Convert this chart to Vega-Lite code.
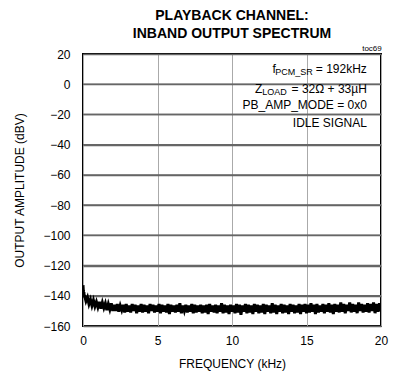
{
  "$schema": "https://vega.github.io/schema/vega-lite/v6.json",
  "autosize": {"type": "none"},
  "padding": {"left": 83, "top": 54, "right": 17, "bottom": 48},
  "width": 298,
  "height": 272,
  "background": "white",
  "view": {"stroke": "black", "strokeWidth": 2},
  "title": {
    "text": ["PLAYBACK CHANNEL:", "INBAND OUTPUT SPECTRUM"],
    "font": "Liberation Sans",
    "fontSize": 14,
    "fontWeight": "bold",
    "lineHeight": 18,
    "anchor": "middle",
    "color": "black",
    "offset": 4
  },
  "config": {
    "view": {"stroke": "black", "strokeWidth": 2},
    "font": "Liberation Sans",
    "axis": {
      "labelFont": "Liberation Sans",
      "titleFont": "Liberation Sans",
      "labelFontSize": 12,
      "titleFontSize": 12,
      "titleFontWeight": "normal",
      "labelColor": "black",
      "titleColor": "black",
      "domain": false,
      "ticks": false,
      "grid": true,
      "labelOverlap": false,
      "gridOpacity": 1,
      "gridWidth": 1
    },
    "axisX": {"tickCount": 4, "gridColor": "#aaaaaa", "labelPadding": 9, "titlePadding": 12, "labelFlush": false},
    "axisY": {"tickCount": 10, "gridColor": "#666666", "gridWidth": 1.5, "labelPadding": 13, "titlePadding": 16},
    "text": {"font": "Liberation Sans", "color": "black"}
  },
  "datasets": {
    "one": [{}],
    "hgrid": [{"g": 0}, {"g": -20}, {"g": -40}, {"g": -60}, {"g": -80}, {"g": -100}, {"g": -120}, {"g": -140}],
    "spectrum": [
      {"f": 0, "v": -133},
      {"f": 0.02, "v": -136.5},
      {"f": 0.04, "v": -139},
      {"f": 0.06, "v": -137.5},
      {"f": 0.08, "v": -141},
      {"f": 0.1, "v": -139.5}, {"f": 0.2, "v": -143.5}, {"f": 0.3, "v": -141}, {"f": 0.4, "v": -145.5}, {"f": 0.5, "v": -142.5}, {"f": 0.6, "v": -146.5}, {"f": 0.7, "v": -143}, {"f": 0.8, "v": -147}, {"f": 0.9, "v": -144}, {"f": 1.0, "v": -147.5},
      {"f": 1.1, "v": -144}, {"f": 1.2, "v": -148.5}, {"f": 1.3, "v": -144.5}, {"f": 1.4, "v": -148}, {"f": 1.5, "v": -145}, {"f": 1.6, "v": -149.5}, {"f": 1.7, "v": -145.5}, {"f": 1.8, "v": -149}, {"f": 1.9, "v": -145}, {"f": 2.0, "v": -150},
      {"f": 2.1, "v": -146}, {"f": 2.2, "v": -150}, {"f": 2.3, "v": -145.5}, {"f": 2.4, "v": -150.5}, {"f": 2.5, "v": -146.5}, {"f": 2.6, "v": -149.5}, {"f": 2.7, "v": -146}, {"f": 2.8, "v": -151}, {"f": 2.9, "v": -145.5}, {"f": 3.0, "v": -150.5},
      {"f": 3.1, "v": -146.5}, {"f": 3.2, "v": -151}, {"f": 3.3, "v": -145.5}, {"f": 3.4, "v": -150}, {"f": 3.5, "v": -146}, {"f": 3.6, "v": -151.5}, {"f": 3.7, "v": -146.5}, {"f": 3.8, "v": -150.5}, {"f": 3.9, "v": -145.5}, {"f": 4.0, "v": -151},
      {"f": 4.1, "v": -146}, {"f": 4.2, "v": -150.5}, {"f": 4.3, "v": -146.5}, {"f": 4.4, "v": -151.5}, {"f": 4.5, "v": -145.5}, {"f": 4.6, "v": -150}, {"f": 4.7, "v": -146}, {"f": 4.8, "v": -151}, {"f": 4.9, "v": -146.5}, {"f": 5.0, "v": -150.5},
      {"f": 5.1, "v": -145.5}, {"f": 5.2, "v": -151.5}, {"f": 5.3, "v": -146}, {"f": 5.4, "v": -150.5}, {"f": 5.5, "v": -146.5}, {"f": 5.6, "v": -151}, {"f": 5.7, "v": -145.5}, {"f": 5.8, "v": -152}, {"f": 5.9, "v": -146}, {"f": 6.0, "v": -150.5},
      {"f": 6.1, "v": -146.5}, {"f": 6.2, "v": -151}, {"f": 6.3, "v": -146}, {"f": 6.4, "v": -150.5}, {"f": 6.5, "v": -145}, {"f": 6.6, "v": -151.5}, {"f": 6.7, "v": -146.5}, {"f": 6.8, "v": -150}, {"f": 6.9, "v": -146}, {"f": 7.0, "v": -151},
      {"f": 7.1, "v": -146.5}, {"f": 7.2, "v": -150.5}, {"f": 7.3, "v": -145.5}, {"f": 7.4, "v": -151.5}, {"f": 7.5, "v": -146}, {"f": 7.6, "v": -151}, {"f": 7.7, "v": -146.5}, {"f": 7.8, "v": -150.5}, {"f": 7.9, "v": -146}, {"f": 8.0, "v": -151.5},
      {"f": 8.1, "v": -146.5}, {"f": 8.2, "v": -151}, {"f": 8.3, "v": -146}, {"f": 8.4, "v": -152}, {"f": 8.5, "v": -145.5}, {"f": 8.6, "v": -150.5}, {"f": 8.7, "v": -146.5}, {"f": 8.8, "v": -151}, {"f": 8.9, "v": -146}, {"f": 9.0, "v": -151.5},
      {"f": 9.1, "v": -146.5}, {"f": 9.2, "v": -150.5}, {"f": 9.3, "v": -145}, {"f": 9.4, "v": -151.5}, {"f": 9.5, "v": -146}, {"f": 9.6, "v": -151}, {"f": 9.7, "v": -146.5}, {"f": 9.8, "v": -152}, {"f": 9.9, "v": -146}, {"f": 10.0, "v": -150.5},
      {"f": 10.1, "v": -146.5}, {"f": 10.2, "v": -151.5}, {"f": 10.3, "v": -145.5}, {"f": 10.4, "v": -151}, {"f": 10.5, "v": -146}, {"f": 10.6, "v": -152.5}, {"f": 10.7, "v": -146.5}, {"f": 10.8, "v": -150.5}, {"f": 10.9, "v": -145.5}, {"f": 11.0, "v": -151.5},
      {"f": 11.1, "v": -146}, {"f": 11.2, "v": -151}, {"f": 11.3, "v": -146.5}, {"f": 11.4, "v": -152}, {"f": 11.5, "v": -145.5}, {"f": 11.6, "v": -150.5}, {"f": 11.7, "v": -146}, {"f": 11.8, "v": -151.5}, {"f": 11.9, "v": -146.5}, {"f": 12.0, "v": -151},
      {"f": 12.1, "v": -145.5}, {"f": 12.2, "v": -152}, {"f": 12.3, "v": -146}, {"f": 12.4, "v": -150.5}, {"f": 12.5, "v": -146.5}, {"f": 12.6, "v": -151.5}, {"f": 12.7, "v": -145}, {"f": 12.8, "v": -151}, {"f": 12.9, "v": -146}, {"f": 13.0, "v": -152},
      {"f": 13.1, "v": -146.5}, {"f": 13.2, "v": -150.5}, {"f": 13.3, "v": -145.5}, {"f": 13.4, "v": -151.5}, {"f": 13.5, "v": -146}, {"f": 13.6, "v": -151}, {"f": 13.7, "v": -146.5}, {"f": 13.8, "v": -152}, {"f": 13.9, "v": -145.5}, {"f": 14.0, "v": -150.5},
      {"f": 14.1, "v": -146}, {"f": 14.2, "v": -151.5}, {"f": 14.3, "v": -146.5}, {"f": 14.4, "v": -151}, {"f": 14.5, "v": -145.5}, {"f": 14.6, "v": -152}, {"f": 14.7, "v": -146}, {"f": 14.8, "v": -150.5}, {"f": 14.9, "v": -145.5}, {"f": 15.0, "v": -151.5},
      {"f": 15.1, "v": -146}, {"f": 15.2, "v": -151}, {"f": 15.3, "v": -145}, {"f": 15.4, "v": -150.5}, {"f": 15.5, "v": -146}, {"f": 15.6, "v": -152}, {"f": 15.7, "v": -145.5}, {"f": 15.8, "v": -151}, {"f": 15.9, "v": -146.5}, {"f": 16.0, "v": -150.5},
      {"f": 16.1, "v": -145.5}, {"f": 16.2, "v": -151.5}, {"f": 16.3, "v": -146}, {"f": 16.4, "v": -150.5}, {"f": 16.5, "v": -145}, {"f": 16.6, "v": -151}, {"f": 16.7, "v": -146}, {"f": 16.8, "v": -152}, {"f": 16.9, "v": -145.5}, {"f": 17.0, "v": -150.5},
      {"f": 17.1, "v": -146}, {"f": 17.2, "v": -151}, {"f": 17.3, "v": -144.5}, {"f": 17.4, "v": -150.5}, {"f": 17.5, "v": -145.5}, {"f": 17.6, "v": -151.5}, {"f": 17.7, "v": -146}, {"f": 17.8, "v": -150}, {"f": 17.9, "v": -144.5}, {"f": 18.0, "v": -151},
      {"f": 18.1, "v": -145.5}, {"f": 18.2, "v": -150.5}, {"f": 18.3, "v": -146}, {"f": 18.4, "v": -151.5}, {"f": 18.5, "v": -144.5}, {"f": 18.6, "v": -150}, {"f": 18.7, "v": -145.5}, {"f": 18.8, "v": -151}, {"f": 18.9, "v": -146}, {"f": 19.0, "v": -150.5},
      {"f": 19.1, "v": -145}, {"f": 19.2, "v": -151}, {"f": 19.3, "v": -145.5}, {"f": 19.4, "v": -150}, {"f": 19.5, "v": -144.5}, {"f": 19.6, "v": -151.5}, {"f": 19.7, "v": -145.5}, {"f": 19.8, "v": -150.5}, {"f": 19.9, "v": -145}, {"f": 20.0, "v": -150}
    ]
  },
  "layer": [
    {
      "data": {"name": "hgrid"},
      "mark": {"type": "rule", "color": "#666666", "strokeWidth": 1.5},
      "encoding": {
        "x": {"datum": 0},
        "x2": {"datum": 20},
        "y": {"field": "g", "type": "quantitative", "axis": {"title": "OUTPUT AMPLITUDE (dBV)"}}
      }
    },
    {
      "data": {"name": "spectrum"},
      "mark": {"type": "line", "color": "black", "strokeWidth": 3, "clip": true},
      "encoding": {
        "x": {
          "field": "f", "type": "quantitative",
          "scale": {"domain": [0, 20], "nice": false},
          "axis": {"title": "FREQUENCY (kHz)", "grid": true, "gridColor": "#aaaaaa", "tickCount": 4}
        },
        "y": {
          "field": "v", "type": "quantitative",
          "scale": {"domain": [-160, 20], "nice": false},
          "axis": {"title": "OUTPUT AMPLITUDE (dBV)", "grid": true, "gridColor": "#666666", "tickCount": 10}
        }
      }
    },
    {
      "data": {"name": "one"},
      "mark": {"type": "text", "text": " = 192kHz", "align": "right", "baseline": "middle", "fontSize": 12},
      "encoding": {"x": {"datum": 19.05}, "y": {"datum": 10}}
    },
    {
      "data": {"name": "one"},
      "mark": {"type": "text", "text": "PCM_SR", "align": "right", "baseline": "middle", "fontSize": 9, "dx": -54, "dy": 3},
      "encoding": {"x": {"datum": 19.05}, "y": {"datum": 10}}
    },
    {
      "data": {"name": "one"},
      "mark": {"type": "text", "text": "f", "align": "right", "baseline": "middle", "fontSize": 12, "dx": -91},
      "encoding": {"x": {"datum": 19.05}, "y": {"datum": 10}}
    },
    {
      "data": {"name": "one"},
      "mark": {"type": "text", "text": " = 32Ω + 33µH", "align": "right", "baseline": "middle", "fontSize": 12},
      "encoding": {"x": {"datum": 19.05}, "y": {"datum": -3}}
    },
    {
      "data": {"name": "one"},
      "mark": {"type": "text", "text": "LOAD", "align": "right", "baseline": "middle", "fontSize": 9, "dx": -80, "dy": 3},
      "encoding": {"x": {"datum": 19.05}, "y": {"datum": -3}}
    },
    {
      "data": {"name": "one"},
      "mark": {"type": "text", "text": "Z", "align": "right", "baseline": "middle", "fontSize": 12, "dx": -104.5},
      "encoding": {"x": {"datum": 19.05}, "y": {"datum": -3}}
    },
    {
      "data": {"name": "one"},
      "mark": {"type": "text", "text": "PB_AMP_MODE = 0x0", "align": "right", "baseline": "middle", "fontSize": 12},
      "encoding": {"x": {"datum": 19.05}, "y": {"datum": -14}}
    },
    {
      "data": {"name": "one"},
      "mark": {"type": "text", "text": "IDLE SIGNAL", "align": "right", "baseline": "middle", "fontSize": 12},
      "encoding": {"x": {"datum": 19.05}, "y": {"datum": -25.5}}
    },
    {
      "data": {"name": "one"},
      "mark": {"type": "text", "text": "toc69", "align": "right", "baseline": "middle", "fontSize": 8},
      "encoding": {"x": {"datum": 20.05}, "y": {"datum": 23.3}}
    }
  ]
}
